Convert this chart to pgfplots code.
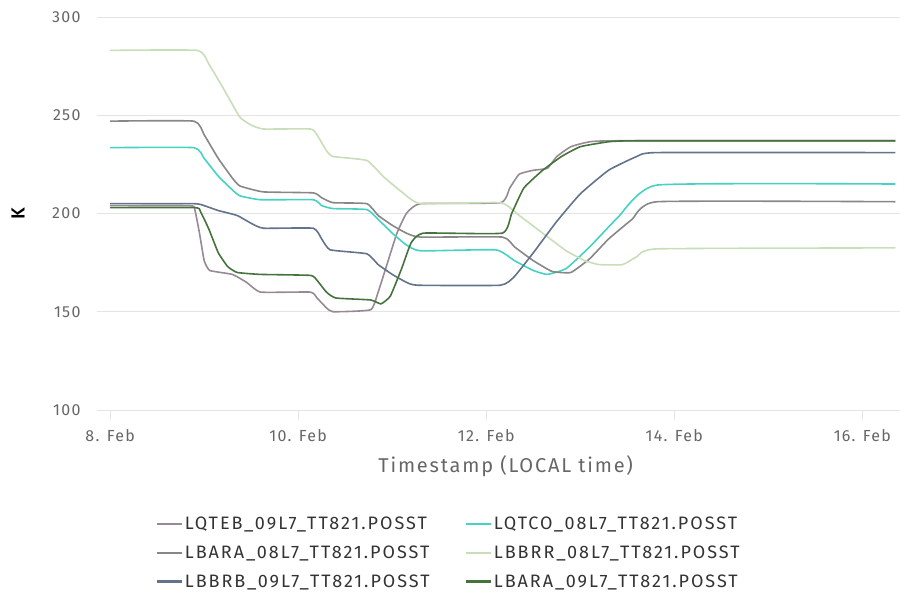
\documentclass[border=0pt]{standalone}
\usepackage{pgfplots}
\pgfplotsset{compat=1.18}
\usepackage{fontspec}
\setmainfont{Fira Sans}[LetterSpace=4]
\newfontfamily\legfont{Fira Sans}[LetterSpace=11]
\newfontfamily\tickfont{Fira Sans}[LetterSpace=8]
\newfontfamily\labfont{Fira Sans}[LetterSpace=9]
\newfontfamily\kfont{Fira Sans Medium}
\definecolor{cLQTEB}{RGB}{150,138,148}
\definecolor{cLQTCO}{RGB}{70,210,195}
\definecolor{cLBARAa}{RGB}{135,135,135}
\definecolor{cLBBRR}{RGB}{200,222,185}
\definecolor{cLBBRB}{RGB}{100,115,140}
\definecolor{cLBARAb}{RGB}{70,115,60}
\definecolor{gridc}{RGB}{228,228,228}
\definecolor{labc}{RGB}{102,102,102}
\begin{document}
\begin{tikzpicture}
\begin{axis}[
  name=ax,
  scale only axis, width=803pt, height=393pt,
  xmin=-0.14, xmax=8.4, ymin=100, ymax=300,
  axis line style={draw=none},
  ytick={100,150,200,250,300},
  xtick={0,2,4,6,8},
  xticklabels={8. Feb,10. Feb,12. Feb,14. Feb,16. Feb},
  xtick pos=bottom, ytick pos=left,
  tick align=outside,
  major tick length=10pt,
  xtick style={draw=gridc, line width=0.8pt},
  ytick style={draw=none},
  ymajorgrids, major grid style={draw=gridc, line width=0.8pt},
  tick label style={font=\tickfont\fontsize{16}{18}\selectfont, text=labc},
  /pgf/number format/assume math mode=true,
  yticklabel style={anchor=east, xshift=-3pt},
  xticklabel style={yshift=-6pt},
  xlabel={Timestamp (LOCAL time)},
  xlabel style={font=\labfont\fontsize{20}{22}\selectfont, text=labc, at={(axis description cs:0.509,-0.1425)}, anchor=center},
  ylabel={K},
  ylabel style={font=\kfont\fontsize{19}{21}\selectfont, text=black, at={(axis description cs:-0.0984,0.5)}, anchor=center},
  legend columns=2,
  legend cell align=left,
  legend style={at={(axis description cs:0.069,-0.262)}, anchor=north west, draw=none, fill=none,
    font=\legfont\fontsize{18}{20}\selectfont, text=black!80,
    row sep=10.5pt,
    /tikz/every even column/.append style={column sep=33pt}},
  legend image code/.code={\draw[#1, line width=2.2pt] (0pt,0pt) -- (25pt,0pt);},
  every axis plot/.append style={line width=1.6pt, smooth, tension=0.25, mark=none},
]
% LQTEB_09L7
\addplot[color=cLQTEB] coordinates {
(0,204) (0.85,204) (0.9,202) (0.95,190) (1.0,176) (1.06,171) (1.3,169) (1.45,165) (1.6,160) (2.13,160) (2.2,157) (2.3,152) (2.37,150) (2.77,151) (2.85,160) (2.95,175) (3.05,190) (3.15,200) (3.3,205) (4.15,205.5) (4.25,213) (4.35,220) (4.5,222) (4.65,223) (4.75,229) (4.9,234) (5.1,236.5) (5.4,237) (8.35,237)
};
\addlegendentry{LQTEB\_09L7\_TT821.POSST}
% LQTCO_08L7
\addplot[color=cLQTCO] coordinates {
(0,233.5) (0.89,233.5) (1.0,228) (1.15,219) (1.3,212) (1.38,209) (1.6,207) (2.16,207) (2.25,204) (2.37,202.5) (2.73,202) (2.85,197) (3.0,190) (3.15,184) (3.3,181) (4.1,181.5) (4.3,176) (4.5,171) (4.65,169) (4.85,172) (5.1,183) (5.4,198) (5.82,214.5) (8.35,215)
};
\addlegendentry{LQTCO\_08L7\_TT821.POSST}
% LBARA_08L7
\addplot[color=cLBARAa] coordinates {
(0,247) (0.89,247) (1.0,240) (1.15,228) (1.3,218) (1.38,214) (1.63,211) (2.16,210.5) (2.25,208) (2.37,205.5) (2.73,205) (2.85,199) (3.0,194) (3.15,190) (3.3,188) (4.17,188) (4.3,183) (4.5,176) (4.7,170.5) (4.9,170) (5.1,177) (5.3,187) (5.55,197) (5.82,206) (8.35,206)
};
\addlegendentry{LBARA\_08L7\_TT821.POSST}
% LBBRR_08L7
\addplot[color=cLBBRR] coordinates {
(0,283) (0.93,283) (1.05,276) (1.2,264) (1.38,249) (1.5,245) (1.63,243) (2.13,243) (2.2,240) (2.3,232) (2.37,229) (2.73,227) (2.9,219) (3.1,211) (3.3,205) (4.15,205.5) (4.35,199) (4.6,190) (4.85,181) (5.05,176) (5.2,174) (5.45,174) (5.6,178) (5.82,182) (8.35,182.5)
};
\addlegendentry{LBBRR\_08L7\_TT821.POSST}
% LBBRB_09L7
\addplot[color=cLBBRB] coordinates {
(0,205) (0.89,205) (1.0,204) (1.15,201.5) (1.35,199) (1.5,195) (1.63,192.5) (2.16,192.5) (2.25,187) (2.34,181.5) (2.73,179.5) (2.85,174) (3.0,169) (3.15,165) (3.27,163.5) (4.15,163.5) (4.3,168) (4.5,180) (4.75,196) (5.0,210) (5.3,222) (5.6,229) (5.82,231) (8.35,231)
};
\addlegendentry{LBBRB\_09L7\_TT821.POSST}
% LBARA_09L7
\addplot[color=cLBARAb] coordinates {
(0,203) (0.9,203) (0.96,201) (1.05,192) (1.15,180) (1.25,173) (1.35,170) (1.6,169) (2.13,168.5) (2.2,166) (2.3,160) (2.4,157) (2.77,156) (2.88,154) (2.98,158) (3.1,172) (3.2,185) (3.33,190) (4.17,190) (4.27,200) (4.4,213) (4.6,222) (4.8,229) (5.0,234) (5.3,236.5) (5.6,237) (8.35,237)
};
\addlegendentry{LBARA\_09L7\_TT821.POSST}
\end{axis}
\pgfresetboundingbox
\useasboundingbox (-97pt,-184pt) rectangle (804pt,410pt);
\end{tikzpicture}
\end{document}
